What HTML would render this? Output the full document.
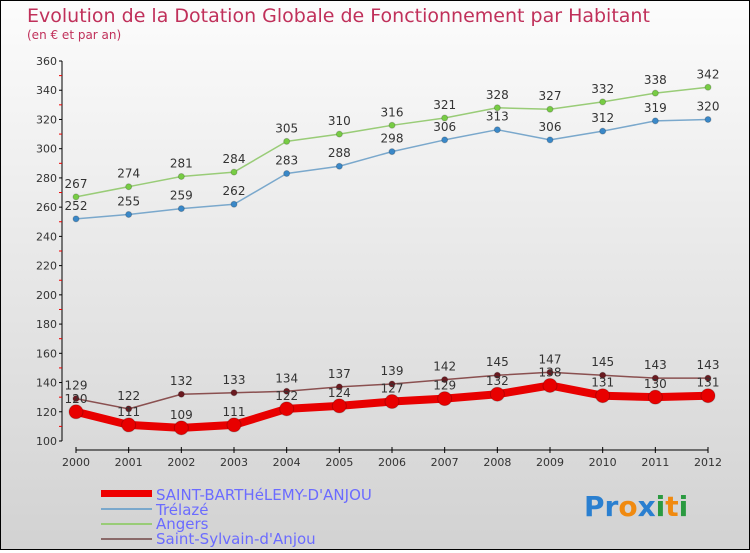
<!DOCTYPE html>
<html><head><meta charset="utf-8"><style>
body{margin:0}
#c{width:748px;height:548px;border:1px solid #000;background:linear-gradient(#fcfcfc,#d2d2d2);position:relative;font-family:"DejaVu Sans","Liberation Sans",sans-serif}
</style></head><body>
<div id="c">
<svg id="s" width="748" height="548" xmlns="http://www.w3.org/2000/svg">
<text x="26" y="21" font-size="19" fill="#c0305a">Evolution de la Dotation Globale de Fonctionnement par Habitant</text>
<text x="26" y="38" font-size="12" fill="#c0305a">(en € et par an)</text>
<g id="axes"></g><g id="series"></g>
<g>
<rect x="100" y="489" width="51" height="7" fill="#e00"/>
<text x="155" y="499" font-size="15" fill="#6b6bff">SAINT-BARTHéLEMY-D'ANJOU</text>
<rect x="100" y="507" width="51" height="2" fill="#7aa8cc"/>
<text x="155" y="514" font-size="15" fill="#6b6bff">Trélazé</text>
<rect x="100" y="522" width="51" height="2" fill="#99cc77"/>
<text x="155" y="528" font-size="15" fill="#6b6bff">Angers</text>
<rect x="100" y="537" width="51" height="2" fill="#8a6a6a"/>
<text x="155" y="543" font-size="15" fill="#6b6bff">Saint-Sylvain-d'Anjou</text>
</g>
<g font-size="28" font-weight="bold">
<text x="583" y="515"><tspan fill="#2a7fd0">Pr</tspan><tspan fill="#f08a10">o</tspan><tspan fill="#2a7fd0">x</tspan><tspan fill="#2a9a40">i</tspan><tspan fill="#f08a10">t</tspan><tspan fill="#2a9a40">i</tspan></text>
</g>
</svg></div>
<script>
const years=[2000,2001,2002,2003,2004,2005,2006,2007,2008,2009,2010,2011,2012];
const yTicks=[100,120,140,160,180,200,220,240,260,280,300,320,340,360];
const sba=[120,111,109,111,122,124,127,129,132,138,131,130,131];
const trelaze=[252,255,259,262,283,288,298,306,313,306,312,319,320];
const angers=[267,274,281,284,305,310,316,321,328,327,332,338,342];
const sylvain=[129,122,132,133,134,137,139,142,145,147,145,143,143];
const NS="http://www.w3.org/2000/svg";
const x=i=>75+i*(707-75)/(years.length-1);
const y=v=>440-(v-100)*380/260;
function mk(t,a,p){const e=document.createElementNS(NS,t);for(const k in a)e.setAttribute(k,a[k]);p.appendChild(e);return e;}
const ax=document.getElementById('axes'),sg=document.getElementById('series');
let l=mk('line',{x1:61,y1:60,x2:61,y2:440,stroke:'#000'},ax);


yTicks.forEach(v=>{
 mk('line',{x1:58,y1:y(v),x2:61,y2:y(v),stroke:'#000'},ax);
 if(v<360)mk('line',{x1:58,y1:y(v+10),x2:61,y2:y(v+10),stroke:'#e00'},ax);
 const t=mk('text',{x:56,y:y(v)+4,'font-size':11,fill:'#333','text-anchor':'end'},ax);t.textContent=v;
 
 
});
l=mk('line',{x1:75,y1:449,x2:707,y2:449,stroke:'#000'},ax);


years.forEach((yr,i)=>{
 mk('line',{x1:x(i),y1:446,x2:x(i),y2:452,stroke:'#000'},ax);
 const t=mk('text',{x:x(i),y:465,'font-size':11,fill:'#333','text-anchor':'middle'},ax);t.textContent=yr;
 
 
});
function series(data,name,col,w,r,dot){
 const g=mk('g',{},sg);
 
 
 mk('polyline',{points:data.map((v,i)=>x(i)+','+y(v)).join(' '),fill:'none',stroke:col,'stroke-width':w,'stroke-linejoin':'round'},g);
 data.forEach((v,i)=>{
  const c=mk('circle',{cx:x(i),cy:y(v),r:r,fill:dot,stroke:'#0003'},g);
  
  
  const t=mk('text',{x:x(i),y:y(v)-9,'font-size':12,fill:'#333','text-anchor':'middle'},g);t.textContent=v;
  
  
 });
}
series(trelaze,'trelaze','#7aa8cc',1.5,3,'#3a88c8');
series(angers,'angers','#99cc77',1.5,3,'#77cc44');
series(sylvain,'saint-sylvain','#8a5050',1.5,3,'#6a1a20');
series(sba,'saint-barthelemy','#e80000',8,7,'#e80000');
</script>
</body></html>
